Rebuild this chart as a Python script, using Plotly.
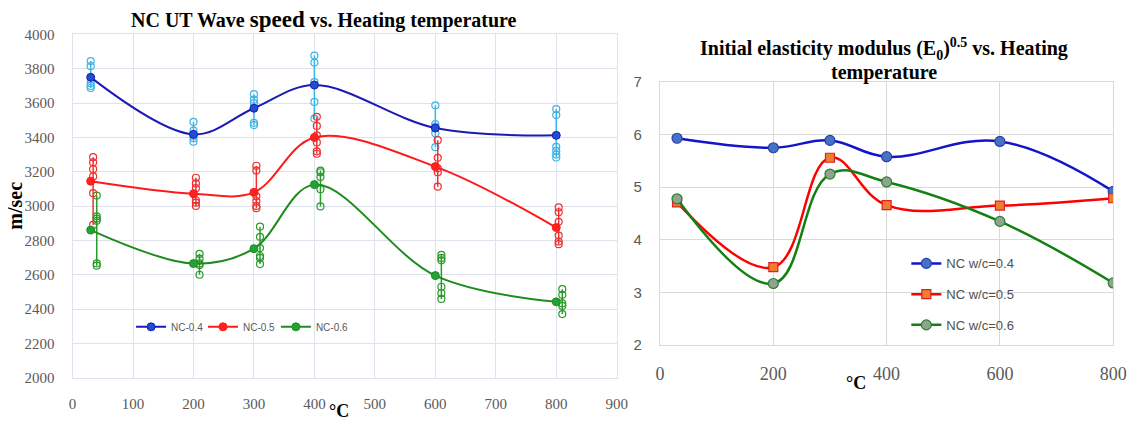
import plotly.graph_objects as go

# ---------------- data ----------------
temps = [30, 200, 300, 400, 600, 800]

# left chart: UT wave speed (m/sec), mean values
ut_nc04 = [3750, 3418, 3570, 3705, 3455, 3412]
ut_nc05 = [3145, 3072, 3080, 3400, 3230, 2875]
ut_nc06 = [2860, 2665, 2752, 3125, 2595, 2442]

# left chart: individual readings at each temperature
ut_nc04_samples = [
    [3845, 3815, 3715, 3700, 3688],
    [3490, 3440, 3410, 3395, 3375],
    [3652, 3620, 3600, 3485, 3472],
    [3877, 3836, 3722, 3607, 3510],
    [3587, 3478, 3462, 3425, 3343],
    [3565, 3530, 3345, 3322, 3300, 3283],
]
ut_nc05_samples = [
    [3285, 3255, 3215, 3173, 3075, 2890],
    [3165, 3132, 3104, 3034, 3020, 3001],
    [3235, 3207, 3057, 3029, 3001, 2988],
    [3520, 3467, 3412, 3371, 3319, 3305],
    [3384, 3281, 3220, 3197, 3113],
    [2992, 2964, 2908, 2828, 2793, 2778],
]
ut_nc06_samples = [
    [3061, 2940, 2927, 2914, 2666, 2653],
    [2722, 2694, 2666, 2656, 2600],
    [2880, 2821, 2755, 2709, 2698, 2662],
    [3207, 3197, 3169, 3098, 2998],
    [2716, 2698, 2684, 2530, 2492, 2459],
    [2516, 2483, 2433, 2418, 2371],
]

# right chart: (E0)^0.5
e_nc04 = [5.93, 5.75, 5.89, 5.58, 5.87, 4.92]
e_nc05 = [4.71, 3.48, 5.56, 4.66, 4.65, 4.79]
e_nc06 = [4.78, 3.17, 5.25, 5.10, 4.35, 3.18]

left_names = ["NC-0.4", "NC-0.5", "NC-0.6"]
right_names = ["NC w/c=0.4", "NC w/c=0.5", "NC w/c=0.6"]

# ---------------- style ----------------
W, H = 1138, 427
SERIF = "Liberation Serif"
SANS = "Liberation Sans"
TICK_GRAY = "#595959"

left_line_colors = ["#1a1ab4", "#ff1a1a", "#1e8c1e"]
left_marker_colors = ["#1f4fd0", "#ff2020", "#22a23a"]
sample_colors = ["#3cb4e6", "#f03030", "#2a9a2a"]
sample_offsets = [0, 4, 10]

right_line_colors = ["#1414c8", "#ff0000", "#148014"]
right_marker_fill = ["#4472c4", "#ed7d31", "#8fa48f"]
right_marker_line = ["#2a3fb0", "#e02020", "#2e7d32"]
right_symbols = ["circle", "square", "circle"]


def px_x(p):
    return p / W


def px_y(p):
    return 1 - p / H


fig = go.Figure()

# ---- left chart: sample readings (hollow circles joined vertically)
for samples, col, off in zip([ut_nc04_samples, ut_nc05_samples, ut_nc06_samples],
                             sample_colors, sample_offsets):
    xs, ys = [], []
    for t, grp in zip(temps, samples):
        for v in sorted(grp, reverse=True):
            xs.append(t + off)
            ys.append(v)
        xs.append(None)
        ys.append(None)
    fig.add_trace(go.Scatter(
        x=xs, y=ys, mode="lines+markers", xaxis="x", yaxis="y",
        line=dict(color=col, width=1.5),
        marker=dict(symbol="circle-open", size=7, color=col, line=dict(width=1.2)),
        showlegend=False, hoverinfo="skip", connectgaps=False,
    ))

# ---- left chart: mean curves
for i, (vals, name) in enumerate(zip([ut_nc04, ut_nc05, ut_nc06], left_names)):
    fig.add_trace(go.Scatter(
        x=temps, y=vals, name=name, mode="lines+markers", xaxis="x", yaxis="y",
        line=dict(color=left_line_colors[i], width=2, shape="spline", smoothing=1.0),
        marker=dict(size=8, color=left_marker_colors[i],
                    line=dict(color=left_line_colors[i], width=1)),
        legend=["legend", "legend2", "legend3"][i],
    ))

# ---- right chart
for i, (vals, name) in enumerate(zip([e_nc04, e_nc05, e_nc06], right_names)):
    fig.add_trace(go.Scatter(
        x=temps, y=vals, name=name, mode="lines+markers", xaxis="x2", yaxis="y2",
        line=dict(color=right_line_colors[i], width=2.5, shape="spline", smoothing=1.15),
        marker=dict(symbol=right_symbols[i], size=10 if i != 1 else 9,
                    color=right_marker_fill[i],
                    line=dict(color=right_marker_line[i], width=1.2)),
        legend=["legend4", "legend5", "legend6"][i],
    ))

left_grid = "#dde2ec"
right_grid = "#d9d9d9"

layout = dict(
    width=W, height=H,
    margin=dict(l=0, r=0, t=0, b=0),
    paper_bgcolor="white", plot_bgcolor="white",
    xaxis=dict(
        domain=[px_x(69.6), px_x(622)], range=[0, 900], dtick=100, tick0=0,
        showgrid=True, gridcolor=left_grid, gridwidth=1, zeroline=False,
        showline=True, linecolor=left_grid, mirror=True,
        tickfont=dict(family=SERIF, size=15, color=TICK_GRAY),
        ticks="", ticklabelstandoff=12,
    ),
    yaxis=dict(
        domain=[px_y(384), px_y(26.5)], range=[2000, 4000], dtick=200, tick0=2000,
        showgrid=True, gridcolor=left_grid, gridwidth=1, zeroline=False,
        showline=True, linecolor=left_grid, mirror=True,
        tickfont=dict(family=SERIF, size=15, color=TICK_GRAY),
        ticks="", ticklabelstandoff=14,
    ),
    xaxis2=dict(
        domain=[px_x(666), px_x(1126)], range=[0, 800], dtick=200, tick0=0,
        anchor="y2",
        showgrid=True, gridcolor=right_grid, gridwidth=1.3, zeroline=False,
        showline=True, linecolor=right_grid, linewidth=1.3, mirror=True,
        tickfont=dict(family=SERIF, size=18, color=TICK_GRAY),
        ticks="", ticklabelstandoff=12,
    ),
    yaxis2=dict(
        domain=[px_y(350), px_y(76)], range=[2, 7], dtick=1, tick0=2,
        anchor="x2",
        showgrid=True, gridcolor=right_grid, gridwidth=1.3, zeroline=False,
        showline=True, linecolor=right_grid, linewidth=1.3, mirror=True,
        tickfont=dict(family=SANS, size=15, color=TICK_GRAY),
        ticks="", ticklabelstandoff=14,
    ),
    showlegend=True,
)

# legends: one per entry so each can be placed exactly
left_leg_x = [129, 202, 276]
for i, lx in enumerate(left_leg_x):
    key = ["legend", "legend2", "legend3"][i]
    layout[key] = dict(
        x=px_x(lx), y=px_y(331), xanchor="left", yanchor="middle",
        bgcolor="rgba(0,0,0,0)", borderwidth=0,
        font=dict(family=SANS, size=10, color=TICK_GRAY),
        itemwidth=30,
    )
right_leg_y = [265, 297, 329]
for i, ly in enumerate(right_leg_y):
    key = ["legend4", "legend5", "legend6"][i]
    layout[key] = dict(
        x=px_x(916), y=px_y(ly), xanchor="left", yanchor="middle",
        bgcolor="rgba(0,0,0,0)", borderwidth=0,
        font=dict(family=SANS, size=13, color="#505050"),
        itemwidth=30,
    )

fig.update_layout(**layout)

annotations = [
    dict(text="<b>NC UT Wave <span style='font-size:23px'>speed</span> vs. Heating temperature</b>",
         x=px_x(325), y=px_y(11), xref="paper", yref="paper",
         xanchor="center", yanchor="middle", showarrow=False,
         font=dict(family=SERIF, size=20, color="black")),
    dict(text="<b>m/sec</b>", textangle=-90,
         x=px_x(11), y=px_y(205), xref="paper", yref="paper",
         xanchor="center", yanchor="middle", showarrow=False,
         font=dict(family=SERIF, size=20, color="black")),
    dict(text="<b>°C</b>",
         x=px_x(340), y=px_y(406), xref="paper", yref="paper",
         xanchor="center", yanchor="top", showarrow=False,
         font=dict(family=SERIF, size=18, color="black")),
    dict(text="<b>Initial elasticity modulus (E<sub>0</sub>)<sup>0.5</sup> vs. Heating</b>",
         x=px_x(893), y=px_y(42), xref="paper", yref="paper",
         xanchor="center", yanchor="middle", showarrow=False,
         font=dict(family=SERIF, size=20, color="black")),
    dict(text="<b>temperature</b>",
         x=px_x(893), y=px_y(66), xref="paper", yref="paper",
         xanchor="center", yanchor="middle", showarrow=False,
         font=dict(family=SERIF, size=20, color="black")),
    dict(text="<b>°C</b>",
         x=px_x(865), y=px_y(390), xref="paper", yref="paper",
         xanchor="center", yanchor="middle", showarrow=False,
         font=dict(family=SERIF, size=18, color="black")),
]
fig.update_layout(annotations=annotations)

fig.write_html("out.html")
